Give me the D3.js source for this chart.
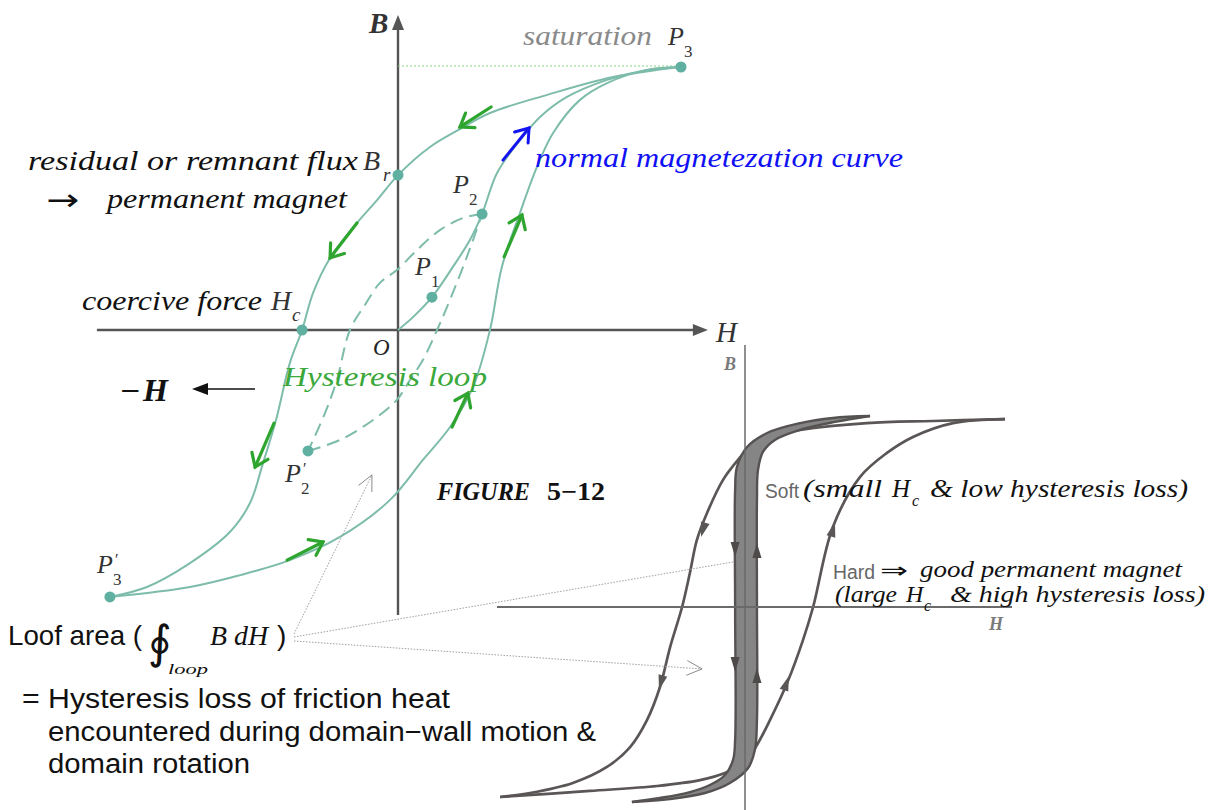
<!DOCTYPE html>
<html><head><meta charset="utf-8">
<script src="https://cdn.jsdelivr.net/npm/d3@7"></script>
<style>html,body{margin:0;padding:0;background:#fff;overflow:hidden}</style>
</head><body>
<svg id="c" width="1225" height="810" xmlns="http://www.w3.org/2000/svg"></svg>
<script>
// ---------- DATA (H, B in normalized units) ----------
// Main hysteresis figure
const upperBranch = [[1.0,1.0],[0.760,0.962],[0.527,0.894],[0.325,0.825],[0.219,0.764],[0.113,0.696],[0,0.589],[-0.074,0.494],[-0.145,0.407],[-0.240,0.274],[-0.300,0.141],[-0.339,0],[-0.382,-0.125],[-0.431,-0.342],[-0.477,-0.506],[-0.523,-0.658],[-0.594,-0.768],[-0.746,-0.894],[-0.887,-0.977],[-1.018,-1.015]];
const lowerBranch = [[-1.018,-1.015],[-0.735,-0.977],[-0.558,-0.932],[-0.382,-0.875],[-0.205,-0.787],[-0.028,-0.646],[0.088,-0.494],[0.184,-0.369],[0.265,-0.217],[0.325,0],[0.367,0.240],[0.431,0.445],[0.491,0.620],[0.548,0.749],[0.643,0.875],[0.739,0.939],[0.880,0.989],[1.0,1.0]];
const normalCurve = [[0,0],[0.053,0.049],[0.120,0.125],[0.194,0.240],[0.254,0.342],[0.297,0.441],[0.350,0.597],[0.431,0.722],[0.502,0.810],[0.597,0.886],[0.739,0.951],[0.880,0.989],[1.0,1.0]];
const minorDesc = [[0.297,0.441],[0.230,0.426],[0.148,0.380],[0.067,0.304],[-0.004,0.228],[-0.064,0.179],[-0.117,0.095],[-0.170,0],[-0.216,-0.190],[-0.258,-0.316],[-0.318,-0.460]];
const minorAsc = [[-0.318,-0.460],[-0.205,-0.418],[-0.088,-0.342],[-0.004,-0.266],[0.042,-0.190],[0.088,-0.114],[0.138,0],[0.173,0.087],[0.230,0.240],[0.265,0.342],[0.297,0.441]];
const pointNames = ["P3","P3'","Br","Hc","P1","P2","P2'"];
const pointH = [1.0,-1.018,0,-0.339,0.120,0.297,-0.318];
const pointB = [1.0,-1.015,0.589,0,0.125,0.441,-0.460];
const greenArrows = [[0.329,0.848,0.219,0.772],[-0.145,0.407,-0.240,0.274],[-0.438,-0.354,-0.505,-0.521],[-0.392,-0.875,-0.265,-0.806],[0.191,-0.369,0.247,-0.240],[0.375,0.278,0.438,0.437]];
const blueArrows = [[0.371,0.646,0.463,0.768]];
const mainAxisH = [-1.064,1.095];
const mainAxisB = [-1.084,1.198];

// Soft / hard comparison figure
const hardDesc = [[1.0,0.989],[0.723,0.979],[0.469,0.968],[0.212,0.932],[0.085,0.895],[0.019,0.842],[-0.027,0.774],[-0.085,0.668],[-0.146,0.495],[-0.185,0.353],[-0.212,0.179],[-0.242,0],[-0.288,-0.211],[-0.327,-0.421],[-0.377,-0.595],[-0.442,-0.737],[-0.531,-0.842],[-0.662,-0.926],[-0.827,-0.979],[-0.942,-1.0]];
const hardAsc = [[-0.942,-1.0],[-0.596,-0.968],[-0.338,-0.942],[-0.173,-0.911],[-0.077,-0.874],[0,-0.816],[0.046,-0.726],[0.096,-0.595],[0.162,-0.400],[0.223,-0.174],[0.262,0],[0.338,0.421],[0.442,0.684],[0.546,0.811],[0.646,0.895],[0.800,0.968],[1.0,0.989]];
const softOuter = [[0.481,1.005],[0.338,0.995],[0.212,0.968],[0.085,0.916],[0.008,0.842],[-0.031,0.737],[-0.038,0.616],[-0.038,0],[-0.038,-0.700],[-0.046,-0.805],[-0.077,-0.884],[-0.135,-0.937],[-0.212,-0.974],[-0.327,-1.005],[-0.435,-1.026]];
const softInner = [[-0.435,-1.026],[-0.288,-1.011],[-0.154,-0.979],[-0.058,-0.926],[0.012,-0.847],[0.038,-0.753],[0.046,-0.595],[0.046,0],[0.046,0.563],[0.050,0.721],[0.069,0.816],[0.115,0.879],[0.212,0.932],[0.346,0.974],[0.481,1.005]];
const hardArrows = [[-0.150,0.458,-0.169,0.368],[-0.312,-0.342,-0.331,-0.437],[0.146,-0.453,0.169,-0.363],[0.327,0.353,0.346,0.447]];
const softArrows = [[-0.038,0.353,-0.038,0.263],[-0.038,-0.253,-0.038,-0.342],[0.046,0.247,0.046,0.337],[0.046,-0.411,0.046,-0.321]];
const axis2H = [-0.954,1.027];
const axis2B = [-1.068,1.379];
// connector targets: [chart, H, B, arrowhead]
const connectorTargets = [["main",-0.092,-0.551,true],["second",-0.046,0.237,false],["second",-0.165,-0.326,true]];

// ---------- SCALES ----------
const svg = d3.select("#c");
const xM = d3.scaleLinear().domain([-1,1]).range([115,681]);
const yM = d3.scaleLinear().domain([-1,1]).range([593,67]);
const x2 = d3.scaleLinear().domain([-1,1]).range([485,1005]);
const y2 = d3.scaleLinear().domain([-1,1]).range([797,417]);

const lineM = d3.line().x(d=>xM(d[0])).y(d=>yM(d[1])).curve(d3.curveCatmullRom.alpha(0.5));
const line2 = d3.line().x(d=>x2(d[0])).y(d=>y2(d[1])).curve(d3.curveCatmullRom.alpha(0.5));

const SERIF = "'Liberation Serif','Times New Roman','DejaVu Serif',serif";
const SANS = "'Liberation Sans','DejaVu Sans',sans-serif";

function txt(g, s, x, y, o) {
  o = o || {};
  const t = g.append("text").attr("x", x).attr("y", y).text(s)
    .attr("font-family", o.family || SERIF)
    .attr("font-size", o.size || 24)
    .attr("font-style", o.italic ? "italic" : "normal")
    .attr("font-weight", o.bold ? "bold" : "normal")
    .attr("fill", o.fill || "#111");
  if (o.len) t.attr("textLength", o.len).attr("lengthAdjust", "spacingAndGlyphs");
  return t;
}
function openArrow(g, ax, ay, bx, by, color, w, len, ang) {
  g.append("line").attr("x1",ax).attr("y1",ay).attr("x2",bx).attr("y2",by)
    .attr("stroke",color).attr("stroke-width",w).attr("stroke-linecap","round");
  const a = Math.atan2(by-ay, bx-ax);
  const p1 = [bx - len*Math.cos(a-ang), by - len*Math.sin(a-ang)];
  const p2 = [bx - len*Math.cos(a+ang), by - len*Math.sin(a+ang)];
  g.append("path").attr("d", `M${p1[0]},${p1[1]}L${bx},${by}L${p2[0]},${p2[1]}`)
    .attr("fill","none").attr("stroke",color).attr("stroke-width",w)
    .attr("stroke-linecap","round").attr("stroke-linejoin","miter");
}
function filledHead(g, ax, ay, bx, by, color, len, hw) {
  const a = Math.atan2(by-ay, bx-ax);
  const cx = bx - len*Math.cos(a), cy = by - len*Math.sin(a);
  const nx = -Math.sin(a)*hw, ny = Math.cos(a)*hw;
  g.append("path").attr("d", `M${bx},${by}L${cx+nx},${cy+ny}L${cx-nx},${cy-ny}Z`).attr("fill", color);
}

// ---------- SECOND FIGURE (soft / hard) ----------
const g2 = svg.append("g");
const hardColor = "#5b5656";
g2.append("path").attr("d", line2(hardDesc)).attr("fill","none").attr("stroke",hardColor).attr("stroke-width",2.7);
g2.append("path").attr("d", line2(hardAsc)).attr("fill","none").attr("stroke",hardColor).attr("stroke-width",2.7);
const softClosed = softOuter.concat(softInner.slice(1,-1));
g2.append("path").attr("d", d3.line().x(d=>x2(d[0])).y(d=>y2(d[1])).curve(d3.curveCatmullRomClosed.alpha(0.5))(softClosed))
  .attr("fill","#858585").attr("stroke","none");
g2.append("path").attr("d", line2(softOuter)).attr("fill","none").attr("stroke","#565252").attr("stroke-width",2.4);
g2.append("path").attr("d", line2(softInner)).attr("fill","none").attr("stroke","#565252").attr("stroke-width",2.4);
g2.append("line").attr("x1",x2(0)).attr("x2",x2(0)).attr("y1",y2(axis2B[1])).attr("y2",y2(axis2B[0]))
  .attr("stroke","#6a6a6a").attr("stroke-width",1.5);
g2.append("line").attr("x1",x2(axis2H[0])).attr("x2",x2(axis2H[1])).attr("y1",y2(0)).attr("y2",y2(0))
  .attr("stroke","#6a6a6a").attr("stroke-width",2.2);
hardArrows.forEach(a=>filledHead(g2, x2(a[0]),y2(a[1]),x2(a[2]),y2(a[3]), "#5b5656", 15, 4.5));
softArrows.forEach(a=>filledHead(g2, x2(a[0]),y2(a[1]),x2(a[2]),y2(a[3]), "#4e4a4a", 15, 4.5));
txt(g2, "B", x2(0)-21, y2(axis2B[1])+25, {size:18, italic:true, bold:true, fill:"#7a7a7a"});
txt(g2, "H", x2(axis2H[1])-23, y2(0)+23, {size:18, italic:true, bold:true, fill:"#7a7a7a"});

// ---------- MAIN FIGURE ----------
const g = svg.append("g");
const axisColor = "#555";
g.append("line").attr("x1",xM(mainAxisH[0])).attr("x2",xM(mainAxisH[1])-12).attr("y1",yM(0)).attr("y2",yM(0))
  .attr("stroke",axisColor).attr("stroke-width",2.4);
filledHead(g, xM(mainAxisH[1])-20, yM(0), xM(mainAxisH[1]), yM(0), axisColor, 15, 6);
g.append("line").attr("x1",xM(0)).attr("x2",xM(0)).attr("y1",yM(mainAxisB[0])).attr("y2",yM(mainAxisB[1])+12)
  .attr("stroke",axisColor).attr("stroke-width",2.4);
filledHead(g, xM(0), yM(mainAxisB[1])+20, xM(0), yM(mainAxisB[1]), axisColor, 15, 6);
g.append("line").attr("x1",xM(0)).attr("x2",xM(1)).attr("y1",yM(1)-1).attr("y2",yM(1)-1)
  .attr("stroke","#86d386").attr("stroke-width",1.2).attr("stroke-dasharray","2,2");
const curveColor = "#7dbcaa";
[upperBranch, lowerBranch, normalCurve].forEach(c=>{
  g.append("path").attr("d", lineM(c)).attr("fill","none").attr("stroke",curveColor).attr("stroke-width",2);
});
[minorDesc, minorAsc].forEach(c=>{
  g.append("path").attr("d", lineM(c)).attr("fill","none").attr("stroke",curveColor).attr("stroke-width",2)
    .attr("stroke-dasharray","13,7");
});
pointNames.forEach((n,i)=>{
  g.append("circle").attr("cx",xM(pointH[i])).attr("cy",yM(pointB[i])).attr("r",5.5).attr("fill","#5fb0a0");
});
greenArrows.forEach(a=>openArrow(g, xM(a[0]),yM(a[1]),xM(a[2]),yM(a[3]), "#2ea52e", 3.2, 15, 0.62));
blueArrows.forEach(a=>openArrow(g, xM(a[0]),yM(a[1]),xM(a[2]),yM(a[3]), "#1414f0", 3, 15, 0.62));

// point labels
const pOff = {"P3":[-13,-22,"3",false],"P1":[-17,-22,"1",false],"P2":[-29,-21,"2",false],"P2'":[-23,31,"2",true],"P3'":[-13,-24,"3",true]};
pointNames.forEach((n,i)=>{
  const o = pOff[n]; if(!o) return;
  const px = xM(pointH[i])+o[0], py = yM(pointB[i])+o[1];
  txt(g, "P", px, py, {size:26, italic:true, fill:"#333"});
  if (o[3]) txt(g, "\u2032", px+18, py-8, {size:16, fill:"#333"});
  txt(g, o[2], px+16, py+12, {size:17, fill:"#333"});
});

txt(g, "B", xM(0)-29, yM(mainAxisB[1])+18, {size:29, italic:true, bold:true, fill:"#333"});
txt(g, "H", xM(mainAxisH[1])+8, yM(0)+12, {size:29, italic:true, fill:"#333"});
txt(g, "O", xM(0)-25, yM(0)+25, {size:23, italic:true, fill:"#222"});

txt(g, "saturation", 523, 45, {size:27, italic:true, fill:"#8a8a8a", len:129});
txt(g, "residual  or  remnant  flux", 28, 170, {size:28, italic:true, len:330});
txt(g, "B", 363, 170, {size:28, italic:true, fill:"#333"});
txt(g, "r", 383, 181, {size:19, italic:true, fill:"#333"});
txt(g, "\u2192", 46, 210, {family:"'DejaVu Sans',sans-serif", size:30, len:33});
txt(g, "permanent  magnet", 107, 208, {size:28, italic:true, len:240});
txt(g, "coercive  force", 82, 310, {size:28, italic:true, len:180});
txt(g, "H", 271, 310, {size:28, italic:true, fill:"#333"});
txt(g, "c", 292, 321, {size:19, italic:true, fill:"#333"});
txt(g, "normal  magnetezation  curve", 535, 167, {size:28, italic:true, fill:"#1010f5", len:368});
txt(g, "Hysteresis  loop", 283, 386, {size:27, italic:true, fill:"#3aa83a", len:204});
txt(g, "\u2212", 120, 401, {size:30, bold:true, len:20});
txt(g, "H", 143, 401, {size:32, italic:true, bold:true});
g.append("line").attr("x1",255).attr("x2",200).attr("y1",389).attr("y2",389).attr("stroke","#111").attr("stroke-width",1.3);
filledHead(g, 212, 389, 192, 389, "#111", 16, 6);
txt(g, "FIGURE", 437, 500, {size:25, italic:true, bold:true, len:93});
txt(g, "5\u221212", 547, 500, {size:25, bold:true, len:58});

// Loof area block
txt(g, "Loof  area  (", 8, 645, {family:SANS, size:28, len:134});
txt(g, "\u222E", 148, 658, {family:"'DejaVu Sans',sans-serif", size:46});
txt(g, "loop", 168, 674, {size:15, italic:true, len:40});
txt(g, "B dH", 210, 645, {size:27, italic:true, len:58});
txt(g, ")", 277, 645, {family:SANS, size:28});
txt(g, "=  Hysteresis  loss  of  friction  heat", 22, 708, {family:SANS, size:27, len:428});
txt(g, "encountered  during  domain\u2212wall  motion  &", 48, 741, {family:SANS, size:27, len:548});
txt(g, "domain  rotation", 48, 773, {family:SANS, size:27, len:202});

// connectors
const cg = svg.append("g");
const cStart = [[294,634],[294,637],[294,641]];
connectorTargets.forEach((c,i)=>{
  const tx = c[0]==="main" ? xM(c[1]) : x2(c[1]);
  const ty = c[0]==="main" ? yM(c[2]) : y2(c[2]);
  cg.append("line").attr("x1",cStart[i][0]).attr("y1",cStart[i][1]).attr("x2",tx).attr("y2",ty)
    .attr("stroke","#a0a0a0").attr("stroke-width",1).attr("stroke-dasharray","1.5,1.5");
  if (c[3]) {
    const a = Math.atan2(ty-cStart[i][1], tx-cStart[i][0]);
    const L=17, an=0.45;
    cg.append("path").attr("d",`M${tx-L*Math.cos(a-an)},${ty-L*Math.sin(a-an)}L${tx},${ty}L${tx-L*Math.cos(a+an)},${ty-L*Math.sin(a+an)}`)
      .attr("fill","none").attr("stroke","#8a8a8a").attr("stroke-width",1);
  }
});

// second figure texts
const g3 = svg.append("g");
txt(g3, "Soft", 765, 498, {family:SANS, size:20, fill:"#666", len:34});
txt(g3, "(small", 803, 497, {size:25, italic:true, len:79});
txt(g3, "H", 892, 497, {size:25, italic:true});
txt(g3, "c", 912, 506, {size:16, italic:true});
txt(g3, "&  low  hysteresis  loss)", 930, 497, {size:25, italic:true, len:258});
txt(g3, "Hard", 833, 579, {family:SANS, size:20, fill:"#666", len:42});
txt(g3, "\u21D2", 880, 578, {family:"'DejaVu Sans',sans-serif", size:22, len:28});
txt(g3, "good  permanent  magnet", 920, 577, {size:24, italic:true, len:262});
txt(g3, "(large", 835, 602, {size:24, italic:true, len:62});
txt(g3, "H", 906, 602, {size:24, italic:true});
txt(g3, "c", 924, 611, {size:16, italic:true});
txt(g3, "&  high  hysteresis  loss)", 950, 602, {size:24, italic:true, len:255});
</script>
</body></html>
